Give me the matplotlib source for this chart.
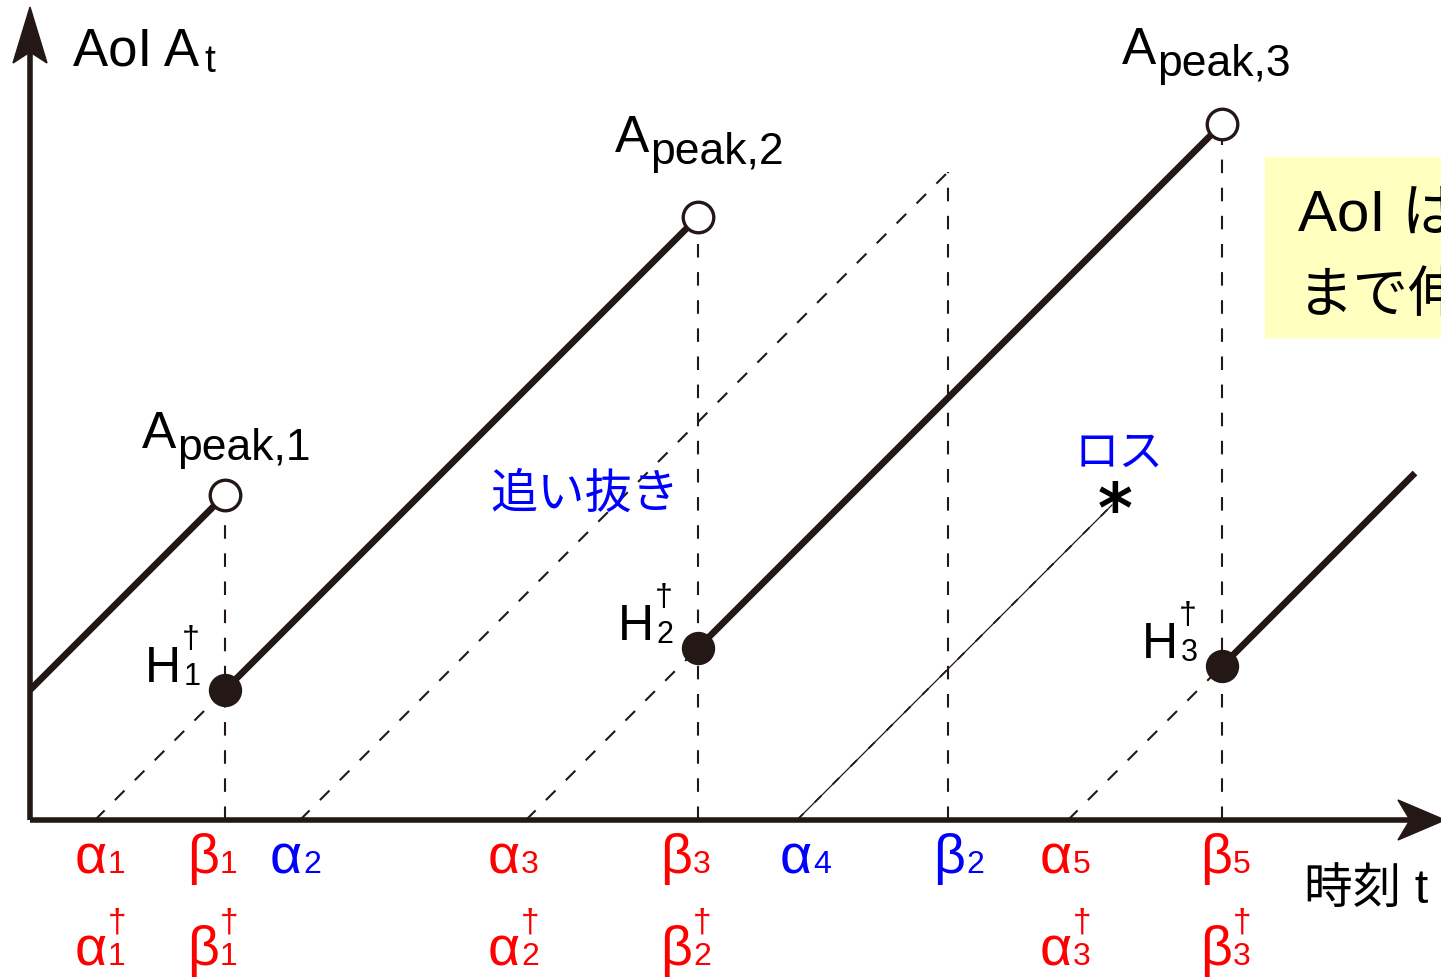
import matplotlib.pyplot as plt
from matplotlib.patches import Polygon, Rectangle

plt.rcParams['font.family'] = ['Liberation Sans', 'Noto Sans CJK JP']

INK = '#231815'
RED = '#ff0000'
BLUE = '#0000ff'

# generation times alpha_1..alpha_5, delivery times beta_1..beta_5
# (update 4 never arrives, it is lost at t_loss)
alpha = [65, 270, 496, 767, 1038]
beta = [195, 918, 668, None, 1192]
t_loss = 1082
t_end = 1385
gen_before = -130  # generation time of the update held at t = 0

# label placement (x shift of the tick labels, peak label offsets)
lab_dx = {'α1': -20, 'β1': -38, 'α2': -30, 'α3': -38, 'β3': -38,
          'α4': -17, 'β2': -15, 'α5': -28, 'β5': -22}
peak_off = [(-83, 47), (-83, 65), (-100, 60)]

fig = plt.figure(figsize=(14.41, 9.8), dpi=100)
ax = fig.add_axes([0, 0, 1, 1])
ax.set_axis_off()
ax.set_xlim(-30, 1411)
ax.set_ylim(-160, 820)

# axes with arrow heads
ax.plot([0, 0], [0, 770], color=INK, lw=4, solid_capstyle='butt', zorder=4)
ax.plot([0, 1385], [0, 0], color=INK, lw=4, solid_capstyle='butt', zorder=4)
ax.add_patch(Polygon([(0, 813), (-17, 757), (0, 768), (17, 757)],
                     closed=True, color=INK, zorder=4))
ax.add_patch(Polygon([(1415, 0), (1368, 20), (1380, 0), (1368, -20)],
                     closed=True, color=INK, zorder=4))

# walk through the deliveries in time order
deliveries = sorted((b, i) for i, b in enumerate(beta) if b is not None)
latest = gen_before
t_prev = 0
fresh, peaks, resets = [], [], []
for b, i in deliveries:
    top = max(b - latest, b - alpha[i])
    ax.plot([b, b], [0, top], color=INK, lw=1.5, ls=(0, (6.5, 7)), zorder=2)
    if alpha[i] > latest:
        fresh.append(i)
        ax.plot([t_prev, b], [t_prev - latest, b - latest], color=INK,
                lw=4.8, solid_capstyle='butt', zorder=3)
        peaks.append((b, b - latest))
        resets.append((b, b - alpha[i]))
        latest = alpha[i]
        t_prev = b
ax.plot([t_prev, t_end], [t_prev - latest, t_end - latest], color=INK,
        lw=4.8, solid_capstyle='butt', zorder=3)

# age of every update from its generation
for i, a in enumerate(alpha):
    if beta[i] is None:
        ax.plot([a, t_loss], [0, t_loss - a], color=INK, lw=0.9, zorder=2)
        ax.plot([a, t_loss], [0, t_loss - a], color=INK, lw=1.3,
                ls=(0, (5, 9)), zorder=2)
    else:
        ax.plot([a, beta[i]], [0, beta[i] - a], color=INK, lw=1.5,
                ls=(0, (6.5, 7)), zorder=2)

ax.text(t_loss - 14, 288, '*', fontsize=48, color='black', ha='left',
        va='baseline', fontweight='bold', family='DejaVu Sans')

px, py = zip(*peaks)
ax.plot(px, py, 'o', ms=22, mfc='white', mec=INK, mew=2.4, zorder=5)
rx, ry = zip(*resets)
ax.plot(rx, ry, 'o', ms=23, color=INK, zorder=5)

# peak labels
for k, ((x, y), (dx, dy)) in enumerate(zip(peaks, peak_off), start=1):
    ax.text(x + dx, y + dy, 'A', fontsize=37, va='baseline', color='black')
    ax.text(x + dx + 35, y + dy - 12, f'peak,{k}', fontsize=32,
            va='baseline', color='black')

# H labels at the resets
for k, (x, y) in enumerate(resets, start=1):
    ax.text(x - 80, y + 8, 'H', fontsize=36, va='baseline')
    ax.text(x - 41, y + 5, str(k), fontsize=22, va='baseline')
    ax.text(x - 43, y + 42, '†', fontsize=23, va='baseline')

# tick labels on the time axis
items = [(a, 'α', i + 1) for i, a in enumerate(alpha)]
items += [(b, 'β', i + 1) for i, b in enumerate(beta) if b is not None]
for t, g, n in sorted(items):
    col = RED if (n - 1) in fresh else BLUE
    x0 = t + lab_dx[f'{g}{n}']
    ax.text(x0, -53, g, fontsize=40, color=col, va='baseline')
    ax.text(x0 + 33, -53, str(n), fontsize=23, color=col, va='baseline')
    if (n - 1) in fresh:
        k = fresh.index(n - 1) + 1 if g == 'β' else sorted(fresh).index(n - 1) + 1
        ax.text(x0, -145, g, fontsize=40, color=col, va='baseline')
        ax.text(x0 + 33, -145, str(k), fontsize=23, color=col, va='baseline')
        ax.text(x0 + 33, -111, '†', fontsize=24, color=col, va='baseline')

# axis titles
ax.text(43, 755, 'AoI A', fontsize=38, va='baseline')
ax.text(174, 748, 't', fontsize=28, va='baseline')
ax.text(1274, -83, '時刻 t', fontsize=35, va='baseline')

# annotations
ax.text(460, 312, '追い抜き', fontsize=34, color=BLUE, va='baseline')
ax.text(1045, 354, 'ロス', fontsize=32, color=BLUE, va='baseline')

# note box (runs off the right edge)
ax.add_patch(Rectangle((1235, 483), 300, 180, color='#ffffc0', zorder=1))
ax.text(1268, 588, 'AoI は', fontsize=42, va='baseline', zorder=2)
ax.text(1268, 508, 'まで伸', fontsize=40, va='baseline', zorder=2)

fig.savefig('out.png', dpi=100)
